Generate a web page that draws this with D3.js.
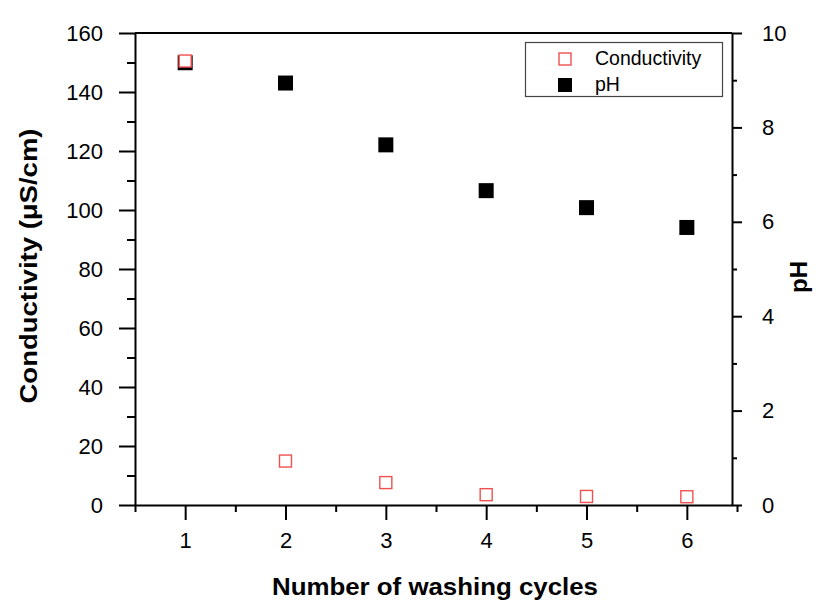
<!DOCTYPE html>
<html lang="en">
<head>
    <meta charset="UTF-8">
    <title>Conductivity and pH vs washing cycles</title>
    <script src="https://d3js.org/d3.v7.min.js"></script>
    <style>
        body { margin: 0; background: #fff; }
        svg text { font-family: Arial, "Liberation Sans", sans-serif; fill: #000; }
        .axis path, .axis line { stroke: #000; stroke-width: 2px; }
        .axis text { font-size: 22px; font-family: Arial, "Liberation Sans", sans-serif; }
        .title { font-size: 24px; font-weight: bold; }
        .legend text { font-size: 19.5px; }
    </style>
</head>
<body>
<div id="chart"></div>
<script>
    // data
    const cycles = [1, 2, 3, 4, 5, 6];
    const conductivity = [150.5, 14.9, 7.6, 3.5, 2.9, 2.8];
    const ph = [9.37, 8.94, 7.63, 6.66, 6.30, 5.88];

    const xMajor = [1, 2, 3, 4, 5, 6];
    const xMinor = [0.5, 1.5, 2.5, 3.5, 4.5, 5.5, 6.5];
    const leftMajor = [0, 20, 40, 60, 80, 100, 120, 140, 160];
    const leftMinor = [10, 30, 50, 70, 90, 110, 130, 150];
    const rightMajor = [0, 2, 4, 6, 8, 10];
    const rightMinor = [1, 3, 5, 7, 9];

    const W = 816, H = 602;
    const plot = { left: 135, right: 732, top: 33, bottom: 505 };

    const svg = d3.select("#chart").append("svg")
        .attr("width", W)
        .attr("height", H);

    const x = d3.scaleLinear().domain([0.5, 6.45]).range([plot.left, plot.right]);
    const yL = d3.scaleLinear().domain([0, 160]).range([plot.bottom, plot.top]);
    const yR = d3.scaleLinear().domain([0, 10]).range([plot.bottom, plot.top]);

    // top frame line
    svg.append("line")
        .attr("x1", plot.left).attr("x2", plot.right)
        .attr("y1", plot.top).attr("y2", plot.top)
        .attr("stroke", "#000").attr("stroke-width", 2);

    // minor ticks (no labels)
    svg.append("g").attr("class", "axis")
        .attr("transform", `translate(0,${plot.bottom})`)
        .call(d3.axisBottom(x).tickValues(xMinor).tickSize(7).tickFormat(""))
        .select(".domain").remove();
    svg.append("g").attr("class", "axis")
        .attr("transform", `translate(${plot.left},0)`)
        .call(d3.axisLeft(yL).tickValues(leftMinor).tickSize(8).tickFormat(""))
        .select(".domain").remove();
    svg.append("g").attr("class", "axis")
        .attr("transform", `translate(${plot.right},0)`)
        .call(d3.axisRight(yR).tickValues(rightMinor).tickSize(5).tickFormat(""))
        .select(".domain").remove();

    // major axes
    svg.append("g").attr("class", "axis")
        .attr("transform", `translate(0,${plot.bottom})`)
        .call(d3.axisBottom(x).tickValues(xMajor).tickFormat(d3.format("d"))
            .tickSize(15).tickSizeOuter(0).tickPadding(12));

    svg.append("g").attr("class", "axis")
        .attr("transform", `translate(${plot.left},0)`)
        .call(d3.axisLeft(yL).tickValues(leftMajor).tickFormat(d3.format("d"))
            .tickSize(16).tickSizeOuter(0).tickPadding(16));

    svg.append("g").attr("class", "axis")
        .attr("transform", `translate(${plot.right},0)`)
        .call(d3.axisRight(yR).tickValues(rightMajor).tickFormat(d3.format("d"))
            .tickSize(10).tickSizeOuter(0).tickPadding(20));

    // axis titles
    svg.append("text").attr("class", "title")
        .attr("x", 435)
        .attr("y", 595)
        .attr("text-anchor", "middle")
        .attr("textLength", 326)
        .attr("lengthAdjust", "spacingAndGlyphs")
        .text("Number of washing cycles");

    svg.append("text").attr("class", "title")
        .attr("transform", "translate(37,266) rotate(-90)")
        .attr("text-anchor", "middle")
        .attr("textLength", 275)
        .attr("lengthAdjust", "spacingAndGlyphs")
        .text("Conductivity (μS/cm)");

    svg.append("text").attr("class", "title")
        .attr("transform", "translate(807,277) rotate(-90)")
        .attr("text-anchor", "middle")
        .text("pH");

    // pH points (filled black squares)
    const sPh = 15;
    svg.append("g").selectAll("rect")
        .data(cycles)
        .join("rect")
        .attr("x", (d) => x(d) - sPh / 2)
        .attr("y", (d, i) => yR(ph[i]) - sPh / 2)
        .attr("width", sPh)
        .attr("height", sPh)
        .attr("fill", "#000");

    // conductivity points (open red squares)
    const sC = 12;
    svg.append("g").selectAll("rect")
        .data(cycles)
        .join("rect")
        .attr("x", (d) => x(d) - sC / 2)
        .attr("y", (d, i) => yL(conductivity[i]) - sC / 2)
        .attr("width", sC)
        .attr("height", sC)
        .attr("fill", "#fff")
        .attr("stroke", "#f05050")
        .attr("stroke-width", 1.4);

    // legend
    const legend = svg.append("g").attr("class", "legend");
    legend.append("rect")
        .attr("x", 525.5).attr("y", 42.5)
        .attr("width", 197).attr("height", 54)
        .attr("fill", "#fff")
        .attr("stroke", "#444")
        .attr("stroke-width", 1.2);
    legend.append("rect")
        .attr("x", 559).attr("y", 53)
        .attr("width", 12).attr("height", 12)
        .attr("fill", "#fff")
        .attr("stroke", "#f05050")
        .attr("stroke-width", 1.4);
    legend.append("rect")
        .attr("x", 558).attr("y", 78)
        .attr("width", 14).attr("height", 14)
        .attr("fill", "#000");
    legend.append("text").attr("x", 595).attr("y", 65).text("Conductivity");
    legend.append("text").attr("x", 595).attr("y", 91).text("pH");
</script>
</body>
</html>
